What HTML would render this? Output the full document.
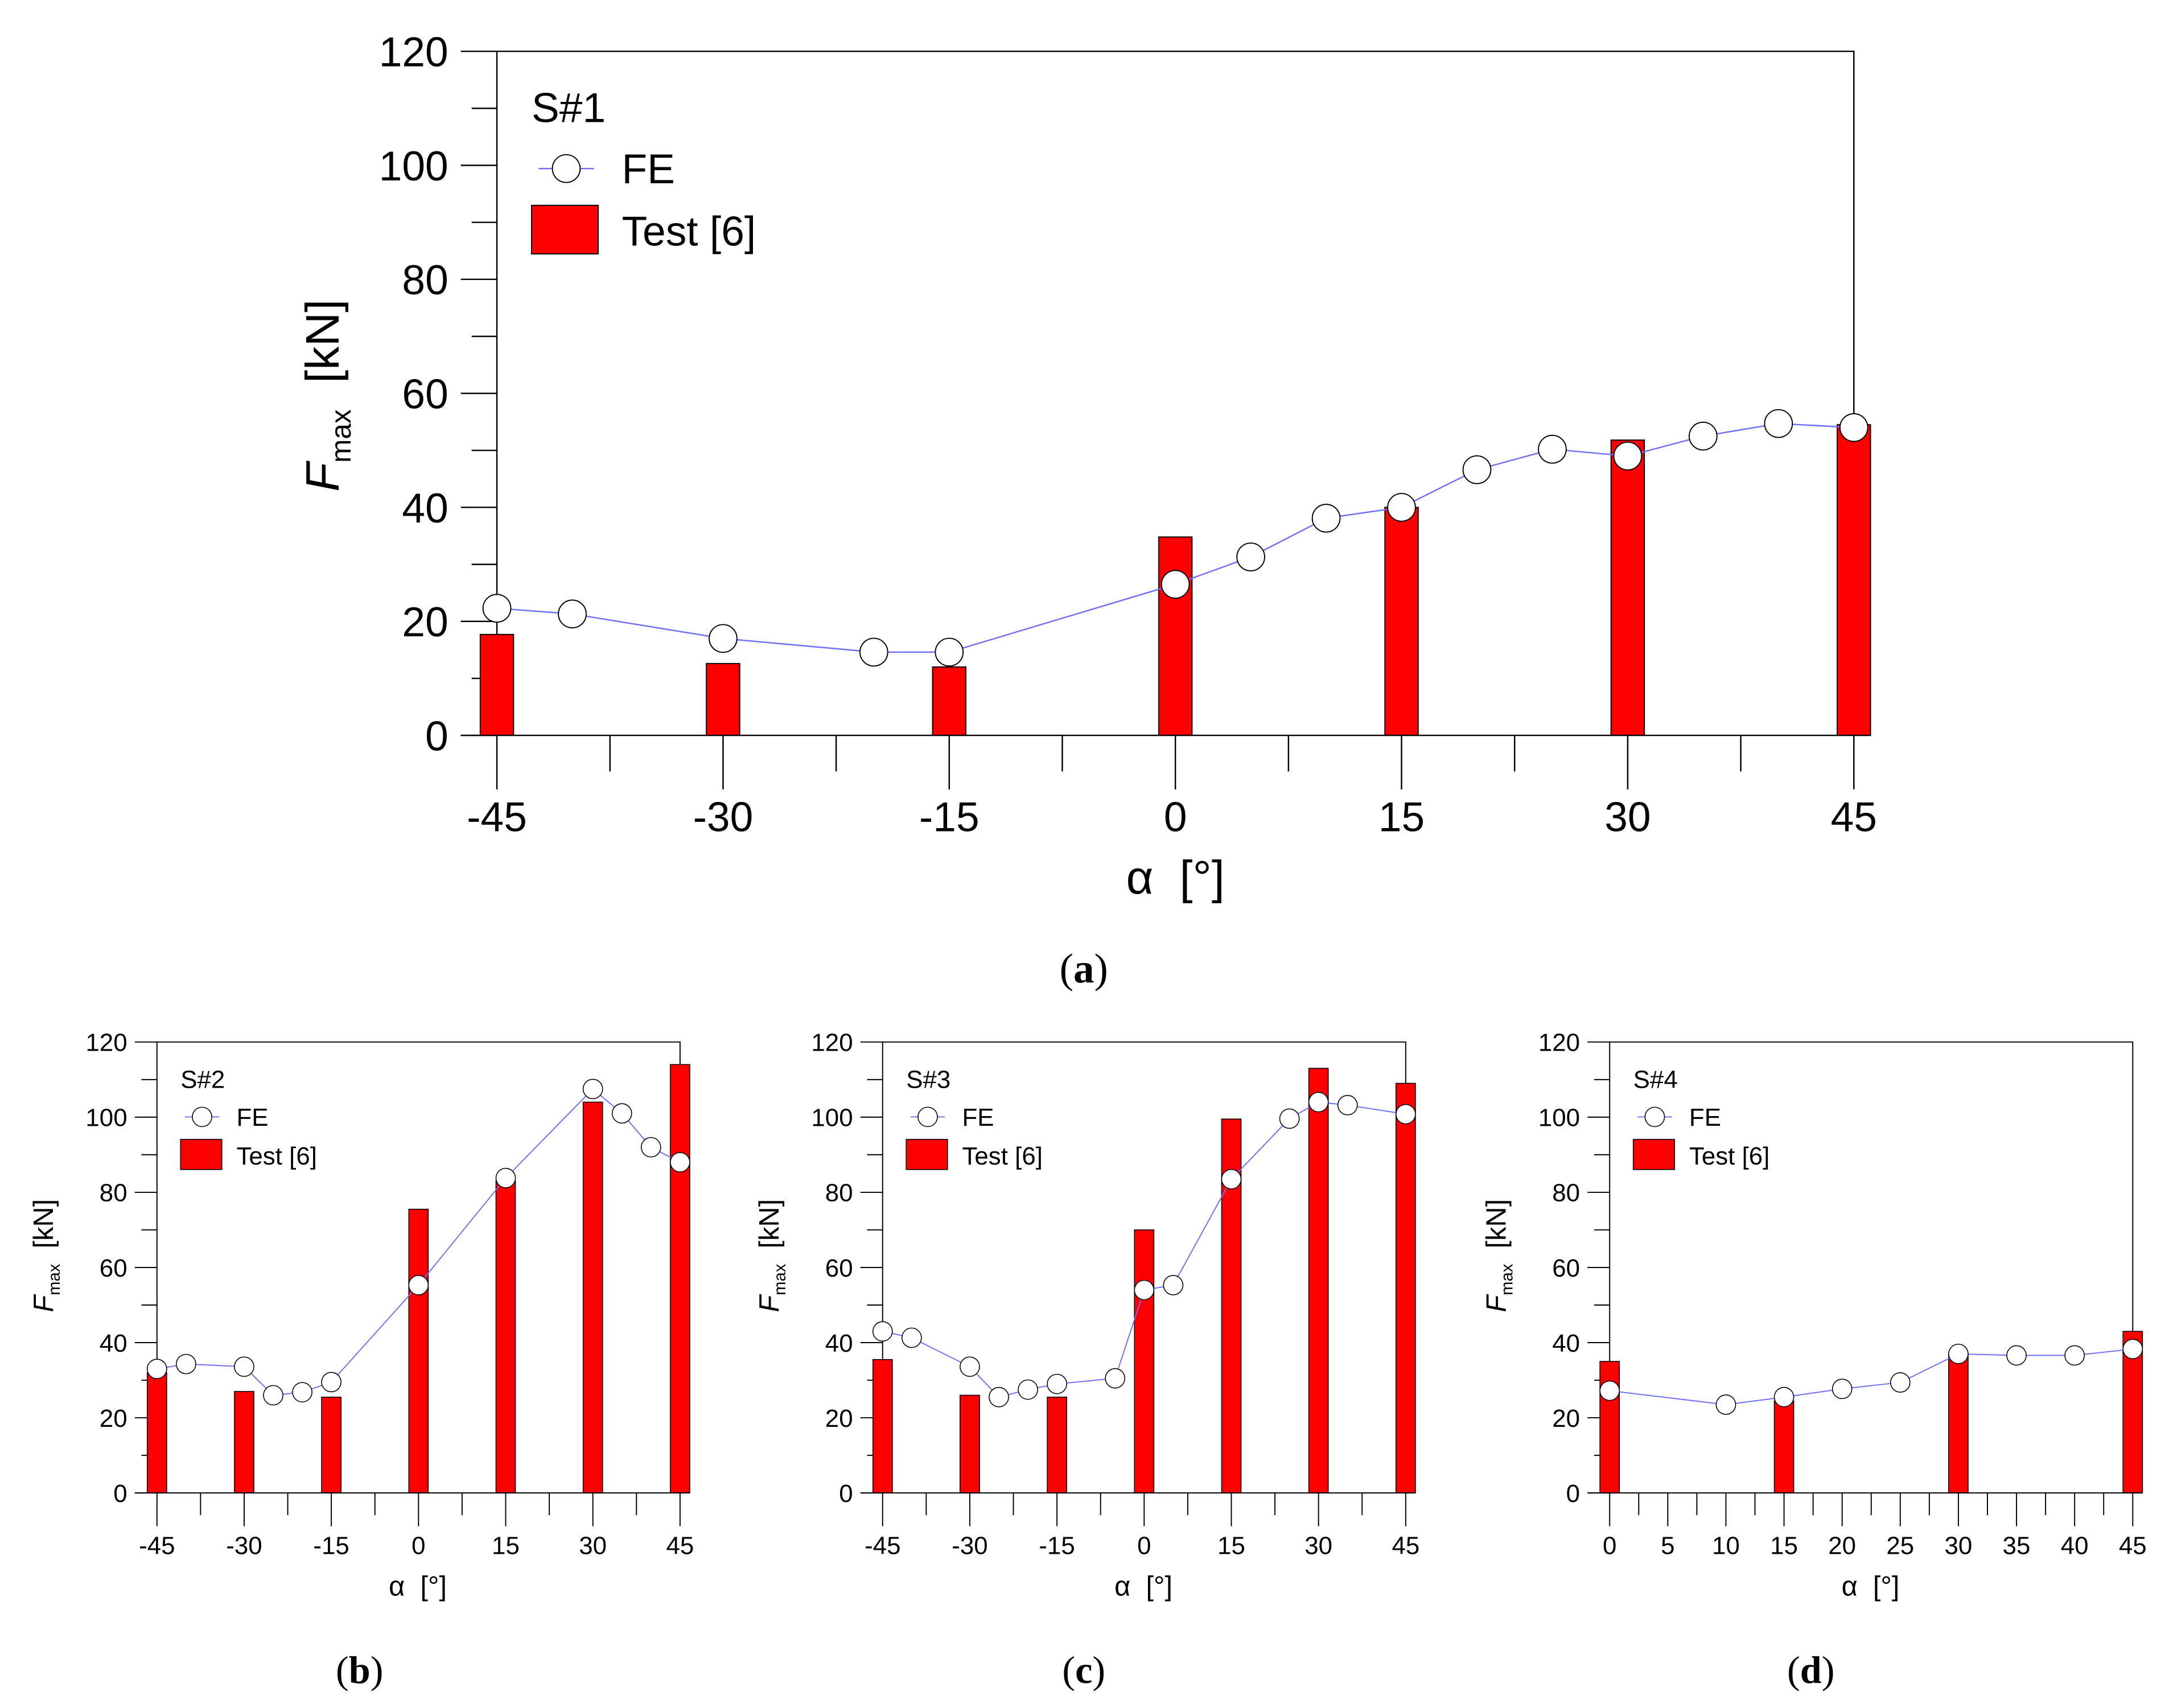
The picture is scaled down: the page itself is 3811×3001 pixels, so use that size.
<!DOCTYPE html>
<html><head><meta charset="utf-8"><style>
html,body{margin:0;padding:0;background:#fff}
svg{display:block}
text{font-family:"Liberation Sans",sans-serif;fill:#000}
</style></head><body>
<svg id="fig" width="3811" height="3001" viewBox="0 0 1563 1231" xmlns="http://www.w3.org/2000/svg">
<rect x="0" y="0" width="1563" height="1231" fill="#fff"/>
</svg>
<script>
// Panel (a) S#1
const aBarX = [-45,-30,-15,0,15,30,45];
const aBarY = [17.7,12.6,12,34.8,40,51.8,54.5];
const aFeX = [-45,-40,-30,-20,-15,0,5,10,15,20,25,30,35,40,45];
const aFeY = [22.3,21.3,17,14.6,14.6,26.5,31.3,38.1,40,46.6,50.2,49,52.5,54.7,54];
// Panel (b) S#2
const bBarX = [-45,-30,-15,0,15,30,45];
const bBarY = [32,27,25.5,75.5,83,104,114];
const bFeX = [-45,-40,-30,-25,-20,-15,0,15,30,35,40,45];
const bFeY = [33,34.3,33.6,26,26.8,29.5,55.3,83.8,107.5,101,92,88];
// Panel (c) S#3
const cBarX = [-45,-30,-15,0,15,30,45];
const cBarY = [35.5,26,25.5,70,99.5,113,109];
const cFeX = [-45,-40,-30,-25,-20,-15,-5,0,5,15,25,30,35,45];
const cFeY = [43,41.3,33.6,25.5,27.5,29,30.5,54,55.3,83.5,99.6,104,103.2,100.8];
// Panel (d) S#4
const dBarX = [0,15,30,45];
const dBarY = [35,24.5,37,43];
const dFeX = [0,10,15,20,25,30,35,40,45];
const dFeY = [27.2,23.5,25.5,27.7,29.4,37,36.6,36.6,38.3];
// ticks
const yTicks = [0,20,40,60,80,100,120];
const symTicks = [-45,-30,-15,0,15,30,45];
const dTicks = [0,5,10,15,20,25,30,35,40,45];

const NS = "http://www.w3.org/2000/svg";
const svg = document.getElementById('fig');
function mk(tag, attrs, parent, txt){
  const e = document.createElementNS(NS, tag);
  for (const k in attrs) e.setAttribute(k, attrs[k]);
  if (txt !== undefined) e.textContent = txt;
  (parent||svg).appendChild(e);
  return e;
}

function panel(o){
  const g = mk('g', {});
  
  
  const xs = v => o.L + (v - o.xmin) / (o.xmax - o.xmin) * (o.R - o.L);
  const ys = v => o.B - v / 120 * (o.B - o.T);
  const sw = o.sw;
  const fr = mk('path', {d:`M${o.L},${o.B} L${o.L},${o.T} L${o.R},${o.T} L${o.R},${o.B}`, fill:'none', stroke:'#000', 'stroke-width':sw}, g);
  
  
  for (let v = 0; v <= 120; v += 10){
    const major = v % 20 === 0;
    const t = mk('line', {x1:o.L-(major?o.tk:o.tk*0.7), x2:o.L, y1:ys(v), y2:ys(v), stroke:'#000','stroke-width':sw}, g);
    
    
  }
  yTicks.forEach(v => {
    const t = mk('text', {x:o.L-o.tk-o.fs*0.3, y:ys(v)+o.fs*0.36, 'font-size':o.fs, 'text-anchor':'end'}, g, String(v));
    
    
  });
  o.barX.forEach((x, i) => {
    const b = mk('rect', {x:xs(x)-o.bw/2, y:ys(o.barY[i]), width:o.bw, height:o.B-ys(o.barY[i]), fill:'#ff0000', stroke:'#000','stroke-width':sw*0.8}, g);
    
    
  });
  const ax = mk('line', {x1:o.L-o.tk, x2:xs(o.xmax)+o.bw/2, y1:o.B, y2:o.B, stroke:'#000','stroke-width':sw}, g);
  
  
  for (let v = o.xmin; v <= o.xmax + 1e-6; v += o.minor){
    const isMajor = o.xticks.some(t => Math.abs(t - v) < 1e-6);
    const t = mk('line', {x1:xs(v), x2:xs(v), y1:o.B, y2:o.B+(isMajor?o.tk*1.5:o.tk), stroke:'#000','stroke-width':sw}, g);
    
    
  }
  o.xticks.forEach(v => {
    const t = mk('text', {x:xs(v), y:o.xly, 'font-size':o.fs, 'text-anchor':'middle'}, g, String(v));
    
    
  });
  const pts = o.feX.map((x,i) => xs(x)+','+ys(o.feY[i])).join(' ');
  const pl = mk('polyline', {points:pts, fill:'none', stroke:'#6f6fff','stroke-width':sw}, g);
  
  
  o.feX.forEach((x,i) => {
    const c = mk('circle', {cx:xs(x), cy:ys(o.feY[i]), r:o.r, fill:'#fff', stroke:'#000','stroke-width':sw*0.8}, g);
    
    
  });
  const lg = mk('g', {}, g);
  
  
  const lx = o.L + o.lg.dx, ly = o.T + o.lg.dy, s = o.lg.s;
  const st = mk('text', {x:lx, y:ly, 'font-size':o.lfs}, lg, o.title);
  
  
  const fy = ly + 44*s - o.lfs*0.35;
  mk('line', {x1:lx+5*s, x2:lx+45*s, y1:fy, y2:fy, stroke:'#6f6fff','stroke-width':sw}, lg);
  const lc = mk('circle', {cx:lx+25*s, cy:fy, r:o.r, fill:'#fff', stroke:'#000','stroke-width':sw*0.8}, lg);
  
  
  const ft = mk('text', {x:lx+65*s, y:ly+44*s, 'font-size':o.lfs}, lg, 'FE');
  
  
  const lr = mk('rect', {x:lx, y:ly+60*s, width:48*s, height:35*s, fill:'#ff0000', stroke:'#000','stroke-width':sw*0.8}, lg);
  
  
  const tt = mk('text', {x:lx+65*s, y:ly+89*s, 'font-size':o.lfs}, lg, 'Test [6]');
  
  
  const yt = mk('text', {transform:`translate(${o.ytx},${o.yty}) rotate(-90)`, 'font-size':o.tfs, 'text-anchor':'middle'}, g);
  
  
  mk('tspan', {'font-style':'italic'}, yt, 'F');
  mk('tspan', {'font-size':o.tfs*0.6, dy:o.tfs*0.25}, yt, 'max');
  mk('tspan', {dy:-o.tfs*0.25}, yt, '\u00a0\u00a0[kN]');
  const xt = mk('text', {x:o.xtx, y:o.xty, 'font-size':o.tfs, 'text-anchor':'middle'}, g, '\u03b1\u00a0\u00a0[\u00b0]');
  
  
  const cap = mk('text', {x:o.capx, y:o.capy, 'font-size':o.capfs, 'text-anchor':'middle', style:'font-family:"Liberation Serif",serif'}, g);
  
  
  mk('tspan', {}, cap, '(');
  mk('tspan', {'font-weight':'bold'}, cap, o.cap);
  mk('tspan', {}, cap, ')');
}

panel({name:'panel-a', L:358, R:1336, T:37, B:530, xmin:-45, xmax:45, xticks:symTicks, minor:7.5,
  barX:aBarX, barY:aBarY, feX:aFeX, feY:aFeY, bw:24, r:10, sw:1, tk:26, fs:30, lfs:30, tfs:34,
  xly:599, title:'S#1', lg:{dx:25, dy:51, s:1}, ytx:244, yty:285, xtx:847, xty:644,
  cap:'a', capx:781, capy:708, capfs:30});
panel({name:'panel-b', L:113, R:490, T:751, B:1076, xmin:-45, xmax:45, xticks:symTicks, minor:7.5,
  barX:bBarX, barY:bBarY, feX:bFeX, feY:bFeY, bw:14, r:7, sw:0.8, tk:16, fs:18, lfs:18, tfs:20,
  xly:1120, title:'S#2', lg:{dx:17, dy:33, s:0.62}, ytx:38, yty:905, xtx:301, xty:1150,
  cap:'b', capx:259, capy:1213, capfs:28});
panel({name:'panel-c', L:636, R:1013, T:751, B:1076, xmin:-45, xmax:45, xticks:symTicks, minor:7.5,
  barX:cBarX, barY:cBarY, feX:cFeX, feY:cFeY, bw:14, r:7, sw:0.8, tk:16, fs:18, lfs:18, tfs:20,
  xly:1120, title:'S#3', lg:{dx:17, dy:33, s:0.62}, ytx:561, yty:905, xtx:824, xty:1150,
  cap:'c', capx:781, capy:1213, capfs:28});
panel({name:'panel-d', L:1160, R:1537, T:751, B:1076, xmin:0, xmax:45, xticks:dTicks, minor:2.5,
  barX:dBarX, barY:dBarY, feX:dFeX, feY:dFeY, bw:14, r:7, sw:0.8, tk:16, fs:18, lfs:18, tfs:20,
  xly:1120, title:'S#4', lg:{dx:17, dy:33, s:0.62}, ytx:1085, yty:905, xtx:1348, xty:1150,
  cap:'d', capx:1305, capy:1213, capfs:28});
</script>
</body></html>
